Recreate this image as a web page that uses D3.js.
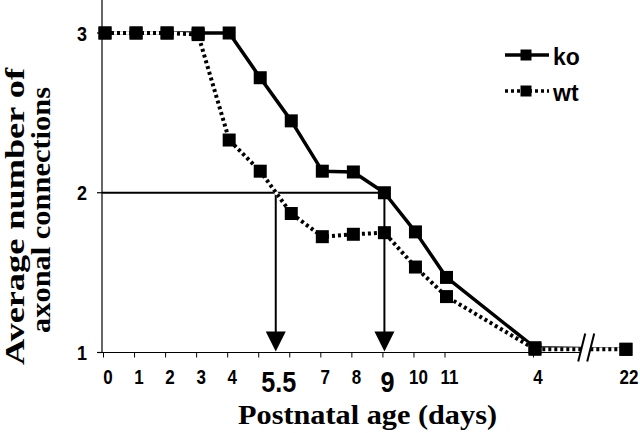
<!DOCTYPE html>
<html><head><meta charset="utf-8">
<script src="https://cdn.jsdelivr.net/npm/d3@7"></script>
<style>html,body{margin:0;padding:0;background:#fff;}svg{display:block;}</style>
</head><body>
<svg id="c" width="640" height="433"></svg>
<script>
// ---- data ----
const categories = ["0","1","2","3","4","5","6","7","8","9","10","11","4","22"];
const positions  = [0,1,2,3,4,5,6,7,8,9,10,11,13.85,16.78];
const koValues   = [3,3,3,3,3,2.72,2.45,2.135,2.13,2.0,1.755,1.47,1.03,1.02];
const wtValues   = [3,3,3,2.99,2.33,2.135,1.87,1.725,1.74,1.75,1.535,1.35,1.02,1.02];
const tickLabels = ["0","1","2","3","4","5.5","7","8","9","10","11","4","22"];
const tickLabelPos = [0,1,2,3,4,5.5,7,8,9,10,11,13.85,16.78];
const bigLabels = ["5.5","9"];
const tickMarkPos = [0,1,2,3,4,5,6,7,8,9,10,11,13.85];
const yTicks = [1,2,3];
const arrowDays = [5.5, 9];
const refLevel = 2;
const breakPos = 15.5;

const svg = d3.select("#c");
const x = d3.scaleLinear().domain([0, 11]).range([105, 446.5]);
const y = d3.scaleLinear().domain([1, 3]).range([352.5, 33]);
const axisX = 102;
const fontSans = "'Liberation Sans', Arial, sans-serif";
const fontSerif = "'Liberation Serif', 'Times New Roman', serif";

// y axis
svg.append("line").attr("x1", axisX).attr("x2", axisX).attr("y1", 0).attr("y2", y(1))
  .attr("stroke", "#000").attr("stroke-width", 1.2);
svg.selectAll(".ytick").data(yTicks).join("line")
  .attr("x1", axisX - 5).attr("x2", axisX).attr("y1", d => y(d)).attr("y2", d => y(d))
  .attr("stroke", "#000").attr("stroke-width", 1.2);
svg.selectAll(".ylab").data(yTicks).join("text")
  .attr("transform", d => `translate(87,${y(d) + 7.5}) scale(0.9,1.05)`)
  .attr("text-anchor", "end").attr("font-family", fontSans).attr("font-weight", "bold")
  .attr("font-size", 20).text(d => d);

// x axis
svg.append("line").attr("x1", 97).attr("x2", x(breakPos) - 4).attr("y1", y(1)).attr("y2", y(1))
  .attr("stroke", "#000").attr("stroke-width", 1.2);
svg.selectAll(".xtick").data(tickMarkPos).join("line")
  .attr("x1", d => x(d) - 1.5).attr("x2", d => x(d) - 1.5)
  .attr("y1", y(1)).attr("y2", y(1) + 5)
  .attr("stroke", "#000").attr("stroke-width", 1);
svg.selectAll(".xlab").data(tickLabels).join("text")
  .attr("transform", (d, i) => {
    const big = bigLabels.includes(d);
    const px = x(tickLabelPos[i]) + 3;
    return `translate(${px},${big ? 392 : 384}) scale(${big ? 0.9 : 0.85},1.05)`;
  })
  .attr("text-anchor", "middle").attr("font-family", fontSans).attr("font-weight", "bold")
  .attr("font-size", d => bigLabels.includes(d) ? 28 : 20).text(d => d);

// reference line and arrows
svg.append("line").attr("x1", axisX).attr("x2", x(9)).attr("y1", y(refLevel)).attr("y2", y(refLevel))
  .attr("stroke", "#000").attr("stroke-width", 1.8);
arrowDays.forEach(d => {
  const ax = x(d);
  svg.append("line").attr("x1", ax).attr("x2", ax).attr("y1", y(refLevel)).attr("y2", y(1) - 15)
    .attr("stroke", "#000").attr("stroke-width", 2);
  svg.append("path")
    .attr("d", `M${ax - 10},${y(1) - 21} L${ax + 10},${y(1) - 21} L${ax},${y(1) - 1} Z`)
    .attr("fill", "#000");
});

// series
const ptsKo = positions.map((p, i) => [x(p), y(koValues[i])]);
const ptsWt = positions.map((p, i) => [x(p), y(wtValues[i])]);
const line = d3.line();
svg.append("path").attr("d", line(ptsKo)).attr("fill", "none")
  .attr("stroke", "#000").attr("stroke-width", 3.5).attr("stroke-linejoin", "round");
svg.append("path").attr("d", line(ptsWt)).attr("fill", "none")
  .attr("stroke", "#fff").attr("stroke-width", 3.5);
svg.append("path").attr("d", line(ptsWt)).attr("fill", "none")
  .attr("stroke", "#000").attr("stroke-width", 4).attr("stroke-dasharray", "3,3");

// axis break
const bx = x(breakPos);
const by = y(1) - 4;
svg.append("path")
  .attr("d", `M${bx - 1},${by - 15} L${bx + 8},${by - 15} L${bx + 2},${by + 13} L${bx - 7},${by + 13} Z`)
  .attr("fill", "#fff");
[-1, 8].forEach(o => {
  svg.append("line").attr("x1", bx + o).attr("y1", by - 15).attr("x2", bx + o - 7).attr("y2", by + 13)
    .attr("stroke", "#000").attr("stroke-width", 2);
});

// markers
const ms = 13;
svg.selectAll(".mwt").data(ptsWt).join("rect")
  .attr("x", d => d[0] - ms / 2).attr("y", d => d[1] - ms / 2)
  .attr("width", ms).attr("height", ms).attr("fill", "#000");
svg.selectAll(".mko").data(ptsKo).join("rect")
  .attr("x", d => d[0] - ms / 2).attr("y", d => d[1] - ms / 2)
  .attr("width", ms).attr("height", ms).attr("fill", "#000");

// legend
const legend = [{name: "ko", dash: null, y: 55}, {name: "wt", dash: "3,3", y: 91}];
legend.forEach(l => {
  svg.append("line").attr("x1", 505).attr("x2", 549).attr("y1", l.y).attr("y2", l.y)
    .attr("stroke", "#000").attr("stroke-width", 3.5)
    .attr("stroke-dasharray", l.dash);
  svg.append("rect").attr("x", 526 - 5.5).attr("y", l.y - 5.5).attr("width", 11).attr("height", 11)
    .attr("fill", "#000");
  svg.append("text").attr("x", 553).attr("y", l.y + 10).attr("font-family", fontSans)
    .attr("font-weight", "bold").attr("font-size", 23).text(l.name);
});

// axis titles
svg.append("text").attr("x", 238).attr("y", 424)
  .attr("font-family", fontSerif).attr("font-weight", "bold").attr("font-size", 27)
  .attr("textLength", 259).attr("lengthAdjust", "spacingAndGlyphs")
  .text("Postnatal age (days)");
svg.append("text").attr("transform", "translate(24,365) rotate(-90)")
  .attr("font-family", fontSerif).attr("font-weight", "bold").attr("font-size", 27)
  .attr("textLength", 297).attr("lengthAdjust", "spacingAndGlyphs")
  .text("Average number of");
svg.append("text").attr("transform", "translate(50,333) rotate(-90)")
  .attr("font-family", fontSerif).attr("font-weight", "bold").attr("font-size", 27)
  .attr("textLength", 246).attr("lengthAdjust", "spacingAndGlyphs")
  .text("axonal connections");
</script>
</body></html>
